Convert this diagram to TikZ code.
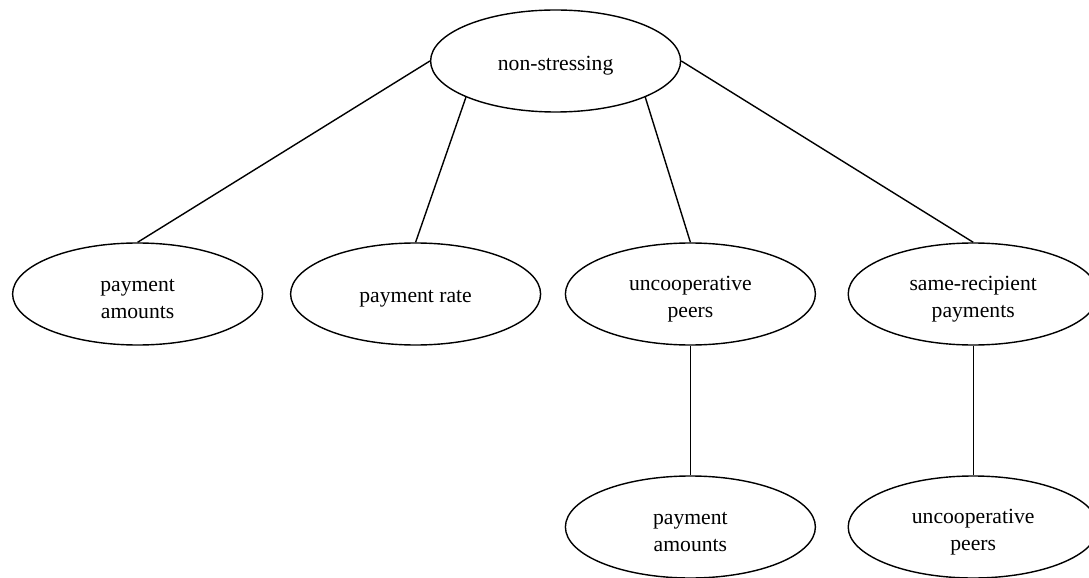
\documentclass[tikz,border=0pt]{standalone}
\usepackage{fontspec}
\setmainfont{Liberation Serif}
\usetikzlibrary{shapes.geometric}

\begin{document}
\begin{tikzpicture}[
  elli/.style={draw, ellipse, line width=1pt, inner sep=0pt,
    minimum width=6.25cm, minimum height=2.55cm},
  txt/.style={align=center, inner sep=0pt, yshift=-0.125cm,
    font=\fontsize{15.4}{19.2}\selectfont}]
\useasboundingbox (0,0) rectangle (27.225,14.425);

\node[elli, label={[txt]center:{non-stressing}}] (1) at (13.89,12.9) {};
\node[elli, label={[txt]center:{payment\\amounts}}] (2) at (3.44,7.075) {};
\node[elli, label={[txt]center:{payment rate}}] (3) at (10.39,7.075) {};
\node[elli, label={[txt]center:{uncooperative\\peers}}] (4) at (17.26,7.075) {};
\node[elli, label={[txt]center:{same-recipient\\payments}}] (5) at (24.33,7.075) {};
\node[elli, label={[txt]center:{payment\\amounts}}] (6) at (17.26,1.25) {};
\node[elli, label={[txt]center:{uncooperative\\peers}}] (7) at (24.33,1.25) {};

\path[draw,line width=1pt,-] (1.west) -- (2.north);
\path[draw,line width=1pt,-] (1.202) -- (3.north);
\path[draw,line width=1pt,-] (1.338) -- (4.north);
\path[draw,line width=1pt,-] (1.east) -- (5.north);
\path[draw,line width=1pt,-] (4.south) -- (6.north);
\path[draw,line width=1pt,-] (5.south) -- (7.north);
\end{tikzpicture}
\end{document}
